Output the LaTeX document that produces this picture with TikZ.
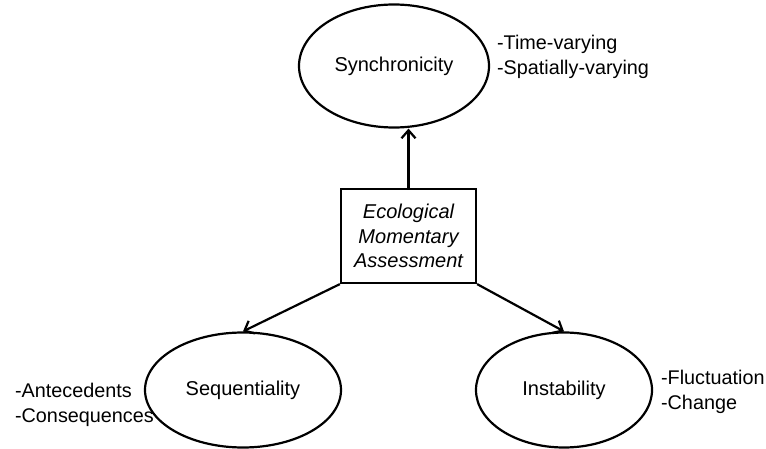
\documentclass[tikz,border=0pt]{standalone}
\usepackage{fontspec}
\setmainfont{Liberation Sans}
\usetikzlibrary{shapes.geometric}
\usetikzlibrary{arrows.meta}
\tikzset{every picture/.style={line width=2.2pt}}

\begin{document}
\begin{tikzpicture}[x=1pt,y=-1pt,
oval/.style={ellipse, draw, inner sep=0pt, font=\fontsize{20}{25}\selectfont},
ema/.style={rectangle, draw, align=center, minimum width=135pt, minimum height=94pt, inner sep=0pt, font=\fontsize{20}{24.5}\selectfont\itshape},
note/.style={anchor=west, align=left, inner sep=0pt, font=\fontsize{19.8}{25.5}\selectfont},
arr/.style={-{Straight Barb[length=8pt,width=14pt]}}]
\useasboundingbox (0,0) rectangle (766,449);
\node (sync) at (394,66) [oval, minimum width=190pt, minimum height=123pt] {Synchronicity};
\node (seq) at (243,390) [oval, minimum width=196pt, minimum height=115pt] {Sequentiality};
\node (inst) at (564,390) [oval, minimum width=176pt, minimum height=115pt] {Instability};
\node (emabox) at (408.5,236) [ema] {Ecological\\Momentary\\Assessment};
\node (syncnote) at (496,57) [note] {-Time-varying\\-Spatially-varying};
\node (seqnote) at (14,405) [note] {-Antecedents\\-Consequences};
\node (instnote) at (660,392) [note] {-Fluctuation\\-Change};
\coordinate (synctip) at (emabox.north |- sync.south);
\draw[arr] (emabox.north) -- (synctip);
\draw[arr] (emabox.south west) -- (seq.north);
\draw[arr] (emabox.south east) -- (inst.north);
\end{tikzpicture}
\end{document}
